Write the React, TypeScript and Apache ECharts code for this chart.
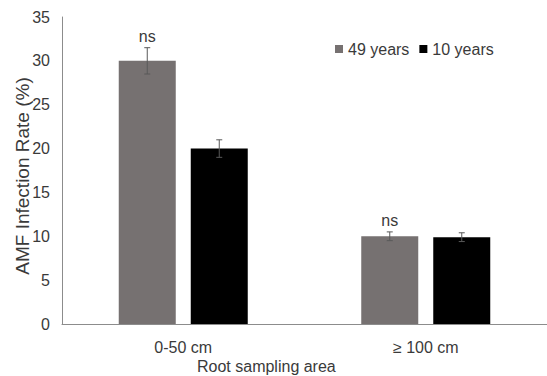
import React, { useEffect, useRef } from "react";
import * as echarts from "echarts";

const categories = ["0-50 cm", "≥ 100 cm"];
const years49 = [30, 10];
const years10 = [20, 9.9];
const err49 = [1.5, 0.5];
const err10 = [1.0, 0.5];
const sig49 = ["ns", "ns"];
const yTicks = { min: 0, max: 35, interval: 5 };
const yTitle = "AMF Infection Rate (%)";
const xTitle = "Root sampling area";

const BAR_W = 57;
const GAP_PX = 15;
const OFFSET = (BAR_W + GAP_PX) / 2;
const TEXT = "#3a3a3a";
const FONT = "'Liberation Sans', Arial, sans-serif";

export default function App() {
  const ref = useRef<HTMLDivElement>(null);
  useEffect(() => {
    if (!ref.current) return;
    const chart = echarts.init(ref.current, null, { renderer: "svg" });
    const errData = (vals: number[], errs: number[], sig: string[] | null) =>
      vals.map((v, i) => [i, v, errs[i], sig ? sig[i] : ""]);
    const errSeries = (name: string, vals: number[], errs: number[], sig: string[] | null, dir: number) => ({
      type: "custom",
      name: name + "-err",
      data: errData(vals, errs, sig),
      z: 10,
      silent: true,
      renderItem: (params: any, api: any) => {
        const i = api.value(0);
        const v = api.value(1);
        const e = api.value(2);
        const s = sig ? sig[params.dataIndex] : "";
        const top = api.coord([i, v + e]);
        const bot = api.coord([i, v - e]);
        const x = top[0] + dir * OFFSET;
        const children: any[] = [
          { type: "line", shape: { x1: x, y1: top[1], x2: x, y2: bot[1] }, style: { stroke: "#595959", lineWidth: 1 } },
          { type: "line", shape: { x1: x - 3, y1: top[1], x2: x + 3, y2: top[1] }, style: { stroke: "#595959", lineWidth: 1 } },
          { type: "line", shape: { x1: x - 3, y1: bot[1], x2: x + 3, y2: bot[1] }, style: { stroke: "#595959", lineWidth: 1 } },
        ];
        if (s) {
          children.push({
            type: "text",
            style: { text: s, x: x, y: top[1] - 3, align: "center", verticalAlign: "bottom", fill: TEXT, font: `16px ${FONT}` },
          });
        }
        return { type: "group", children };
      },
    });
    chart.setOption({
      animation: false,
      grid: { left: 62, top: 17, bottom: 52, width: 494 },
      legend: {
        data: ["49 years", "10 years"],
        left: 335,
        top: 41,
        padding: 0,
        icon: "rect",
        itemWidth: 8,
        itemHeight: 8,
        itemGap: 10,
        textStyle: { color: TEXT, fontSize: 16, fontFamily: FONT },
      },
      xAxis: {
        type: "category",
        data: categories,
        axisLine: { lineStyle: { color: "#8c8c8c", width: 1 } },
        axisTick: { show: false },
        axisLabel: { color: TEXT, fontSize: 16, fontFamily: FONT, margin: 15 },
      },
      yAxis: {
        type: "value",
        min: yTicks.min,
        max: yTicks.max,
        interval: yTicks.interval,
        axisLine: { show: true, lineStyle: { color: "#8c8c8c", width: 1 } },
        axisTick: { show: false },
        splitLine: { show: false },
        axisLabel: { color: TEXT, fontSize: 16, fontFamily: FONT, margin: 12 },
      },
      graphic: [
        {
          type: "text",
          x: 22,
          y: 176,
          rotation: Math.PI / 2,
          style: { text: yTitle, fill: TEXT, font: `19px ${FONT}`, align: "center", verticalAlign: "middle" },
        },
        {
          type: "text",
          x: 197,
          y: 358,
          style: { text: xTitle, fill: TEXT, font: `16px ${FONT}`, verticalAlign: "top" },
        },
      ],
      series: [
        { type: "bar", name: "49 years", data: years49, barWidth: BAR_W, barGap: `${(GAP_PX / BAR_W) * 100}%`, itemStyle: { color: "#767171" } },
        { type: "bar", name: "10 years", data: years10, barWidth: BAR_W, itemStyle: { color: "#000000" } },
        errSeries("49 years", years49, err49, sig49, -1),
        errSeries("10 years", years10, err10, null, 1),
      ],
    });
    return () => chart.dispose();
  }, []);
  return <div ref={ref} style={{ position: "fixed", left: 0, top: 0, width: 547, height: 376, background: "#fff" }} />;
}
